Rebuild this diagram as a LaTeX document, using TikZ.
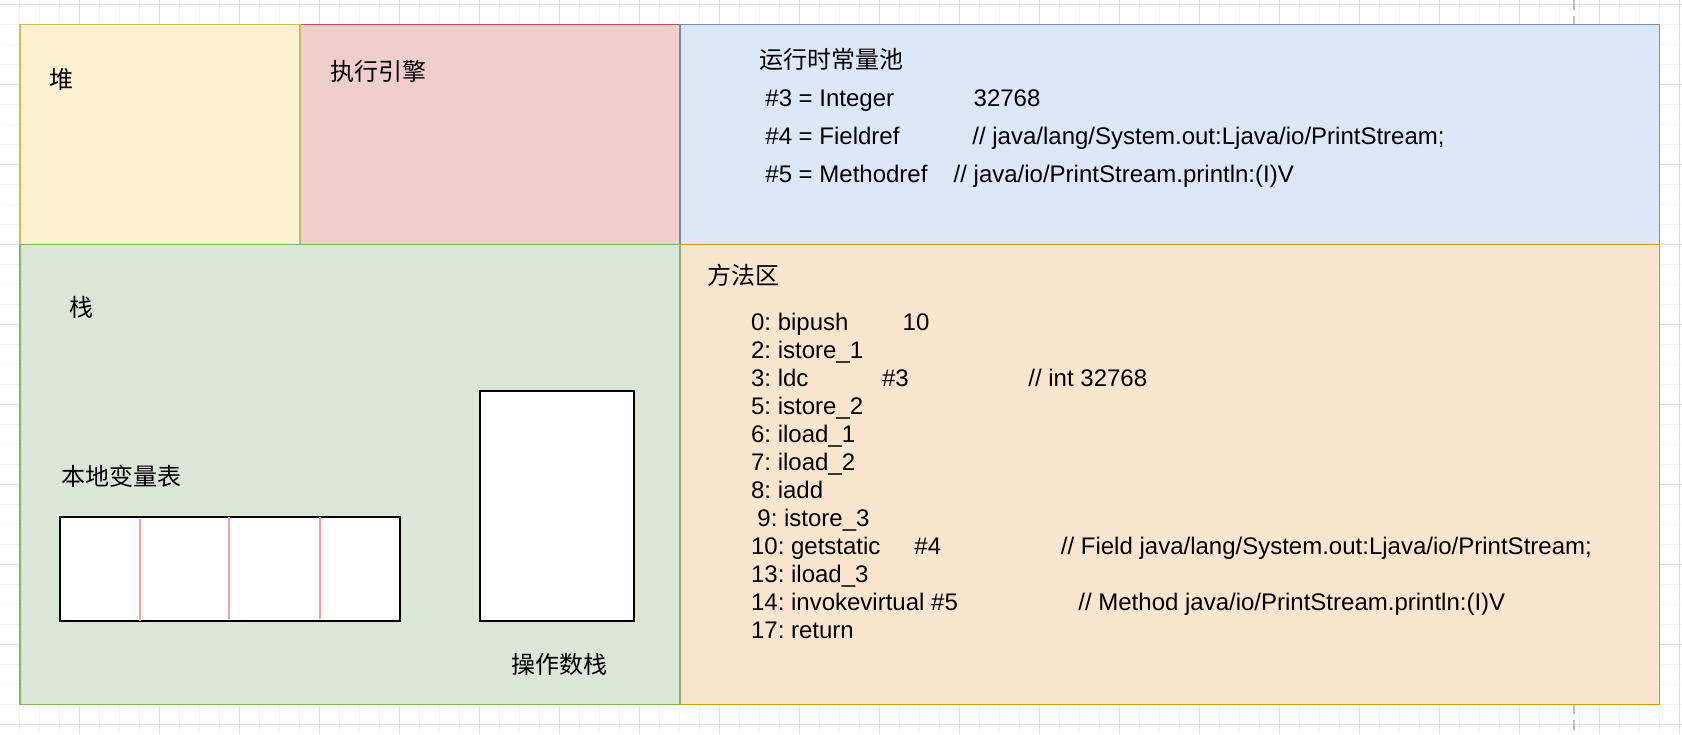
\documentclass[tikz,border=0pt]{standalone}
\usepackage{fontspec}
\setmainfont{Liberation Sans}
\newfontfamily\cjk{Noto Sans CJK SC}
\frenchspacing
\definecolor{heapfill}{HTML}{FBF0CF}
\definecolor{heapline}{HTML}{D6B656}
\definecolor{engfill}{HTML}{F1CECC}
\definecolor{engline}{HTML}{B85450}
\definecolor{poolfill}{HTML}{DCE7F8}
\definecolor{poolline}{HTML}{6C8EBF}
\definecolor{stackfill}{HTML}{DAE7D6}
\definecolor{stackline}{HTML}{82B366}
\definecolor{methfill}{HTML}{FAE6CF}
\definecolor{methline}{HTML}{D79B00}
\definecolor{gridminor}{HTML}{F3F3F3}
\definecolor{gridmajor}{HTML}{E0E0E0}
\definecolor{pagebreak}{HTML}{C0C0C0}
\definecolor{dividerred}{HTML}{F4A0A0}
\tikzset{
  region/.style={line width=0.75pt},
  cjklbl/.style={anchor=base west, inner sep=0pt, font=\cjk\fontsize{12}{14}\selectfont},
  txt/.style={anchor=base west, inner sep=0pt, font=\fontsize{12}{14}\selectfont},
  cellbox/.style={draw=black, fill=white, line width=0.85pt},
  divider/.style={draw=dividerred, line width=0.65pt},
}
\begin{document}
\frenchspacing
\begin{tikzpicture}[x=0.5pt,y=-0.5pt]
\useasboundingbox (0,0) rectangle (1682,734);
\fill[white] (0,0) rectangle (1682,734);
% grid
\begin{scope}
\clip (0,0) rectangle (1682,734);
\foreach \i in {0,...,83} \draw[gridminor, line width=0.5pt] (19.3+20*\i,0) -- (19.3+20*\i,734);
\foreach \j in {0,...,36} \draw[gridminor, line width=0.5pt] (0,4.3+20*\j) -- (1682,4.3+20*\j);
\foreach \i in {0,...,20} \draw[gridmajor, line width=0.5pt] (79.3+80*\i,0) -- (79.3+80*\i,734);
\foreach \j in {0,...,9} \draw[gridmajor, line width=0.5pt] (0,4.3+80*\j) -- (1682,4.3+80*\j);
\draw[pagebreak, line width=0.75pt, dash pattern=on 5pt off 3pt] (1574,0) -- (1574,734);
\end{scope}
% regions
\filldraw[region, fill=engfill, draw=engline] (300,24.5) rectangle (680,244.5);
\filldraw[region, fill=heapfill, draw=heapline] (20,24.5) rectangle (300,244.5);
\filldraw[region, fill=poolfill, draw=poolline] (680,24.5) rectangle (1659.5,244.5);
\filldraw[region, fill=methfill, draw=methline] (680,244.5) rectangle (1659.5,704.5);
\filldraw[region, fill=stackfill, draw=stackline] (20,244.5) rectangle (680,704.5);
% stack contents
\draw[cellbox] (60,516.7) rectangle (400,621);
\draw[divider] (140,519) -- (140,621);
\draw[divider] (229,516.7) -- (229,618.7);
\draw[divider] (320,516.7) -- (320,618.7);
\draw[cellbox] (480,391) rectangle (634,621);
% labels
\node[cjklbl] (heap) at (49,88.5) {堆};
\node[cjklbl] (engine) at (330,80) {执行引擎};
\node[cjklbl] (pool) at (759,68.5) {运行时常量池};
\node[cjklbl] (stack) at (69,316) {栈};
\node[cjklbl] (locals) at (60.7,485) {本地变量表};
\node[cjklbl] (operand) at (511,673) {操作数栈};
\node[cjklbl] (method) at (706.8,284.5) {方法区};
% constant pool entries
\node[txt] (c3) at (765,106.7) {\#3 = Integer};
\node[txt] (c3v) at (973.3,106.7) {32768};
\node[txt] (c4) at (765,144.5) {\#4 = Fieldref};
\node[txt] (c4v) at (972,144.5) {// java/lang/System.out:Ljava/io/PrintStream;};
\node[txt] (c5) at (765,182) {\#5 = Methodref};
\node[txt] (c5v) at (953.3,182) {// java/io/PrintStream.println:(I)V};
% bytecode
\node[txt] (b0) at (750.7,330) {0: bipush};
\node[txt] (b0a) at (902.3,330) {10};
\node[txt] (b2) at (750.7,358) {2: istore\_1};
\node[txt] (b3) at (750.7,386) {3: ldc};
\node[txt] (b3a) at (881.7,386) {\#3};
\node[txt] (b3c) at (1028,386) {// int 32768};
\node[txt] (b5) at (750.7,414) {5: istore\_2};
\node[txt] (b6) at (750.7,442) {6: iload\_1};
\node[txt] (b7) at (750.7,470) {7: iload\_2};
\node[txt] (b8) at (750.7,498) {8: iadd};
\node[txt] (b9) at (757,526) {9: istore\_3};
\node[txt] (b10) at (750.7,554) {10: getstatic};
\node[txt] (b10a) at (914,554) {\#4};
\node[txt] (b10c) at (1060.5,554) {// Field java/lang/System.out:Ljava/io/PrintStream;};
\node[txt] (b13) at (750.7,582) {13: iload\_3};
\node[txt] (b14) at (750.7,610) {14: invokevirtual \#5};
\node[txt] (b14c) at (1078,610) {// Method java/io/PrintStream.println:(I)V};
\node[txt] (b17) at (750.7,638) {17: return};
\end{tikzpicture}
\end{document}
